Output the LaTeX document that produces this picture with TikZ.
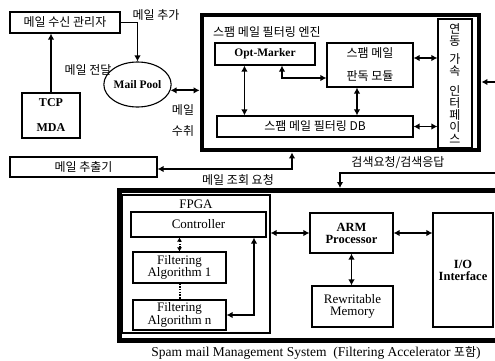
\documentclass[tikz,border=0pt]{standalone}
\usepackage{fontspec}
\setmainfont{Liberation Serif}
\newfontfamily\kr{Noto Sans CJK KR}
\usetikzlibrary{arrows.meta,shapes.geometric,calc}
\begin{document}
\begin{tikzpicture}[x=1pt,y=-1pt,
  box/.style={draw,line width=1.1pt,inner sep=1pt,align=center,font=\fontsize{12}{12}\selectfont\bfseries},
  rbox/.style={box,font=\fontsize{13}{12.5}\selectfont},
  krt/.style={font=\kr\fontsize{12}{12}\selectfont},
  lbl/.style={font=\kr\fontsize{12}{12}\selectfont,inner sep=0pt,align=center},
  conn/.style={line width=1.8pt,-{Latex[length=6pt,width=6.5pt]}},
  both/.style={line width=1.8pt,{Latex[length=6pt,width=6.5pt]}-{Latex[length=6pt,width=6.5pt]}},
  dotc/.style={line width=2pt,dash pattern=on 1.5pt off 1.2pt}]
\useasboundingbox (0,0) rectangle (495,361);
% top-left
\node[box,krt,minimum width=110pt,minimum height=21pt] (recv) at (65,22.5) {메일 수신 관리자};
\node[box,minimum width=58pt,minimum height=45pt] (tcp) at (51,115.5) {TCP\\[13pt]MDA};
\node[draw,ellipse,line width=1.1pt,minimum width=65pt,minimum height=45pt,inner sep=0pt,font=\fontsize{11.5}{12}\selectfont\bfseries] (pool) at (137.5,84.5) {Mail Pool};
\node[lbl] (ladd) at (156,15) {메일 추가};
\node[lbl] (lfwd) at (88,70) {메일 전달};
\node[lbl] (lrcv) at (183,120.5) {메일\\[9pt]수취};
% engine
\node[draw,line width=4.8pt,minimum width=277pt,minimum height=135pt,inner sep=0pt] (engine) at (340.5,82.5) {};
\node[lbl,anchor=west] (leng) at (213,32) {스팸 메일 필터링 엔진};
\node[box,minimum width=100pt,minimum height=22pt,font=\fontsize{11.5}{12}\selectfont\bfseries] (optm) at (265,54) {Opt-Marker};
\node[box,krt,minimum width=86pt,minimum height=44pt] (judge) at (370,65) {스팸 메일\\[11pt]판독 모듈};
\node[box,krt,minimum width=196pt,minimum height=21pt] (db) at (315,126.5) {스팸 메일 필터링 DB};
\node[box,krt,minimum width=34pt,minimum height=129pt] (iface) at (455,83.5) {연\\동\\[6pt]가\\속\\[8pt]인\\터\\페\\이\\스};
% extractor
\node[box,krt,minimum width=147pt,minimum height=20pt] (extract) at (83.5,167) {메일 추출기};
\node[lbl] (lquery) at (238,180) {메일 조회 요청};
\node[lbl] (lsearch) at (398,163) {검색요청/검색응답};
% bottom system
\draw[line width=5pt,line join=miter] (497,190.5) -- (119,190.5) -- (119,340.5) -- (497,340.5);
\coordinate (systop) at (340,188);
\node[draw,line width=1.1pt,minimum width=148pt,minimum height=138pt,inner sep=0pt] (fpga) at (196,264) {};
\node[font=\fontsize{13}{13}\selectfont,inner sep=0pt] (lfpga) at (196,204.5) {FPGA};
\node[rbox,minimum width=135pt,minimum height=25pt] (ctrl) at (198.5,224.5) {Controller};
\node[rbox,minimum width=93pt,minimum height=31pt] (alg1) at (179.5,267.5) {Filtering\\Algorithm 1};
\node[rbox,minimum width=93pt,minimum height=30pt] (algn) at (179.5,315) {Filtering\\Algorithm n};
\node[box,minimum width=83pt,minimum height=40pt,font=\fontsize{12.5}{12}\selectfont\bfseries] (arm) at (351.5,233) {ARM\\Processor};
\node[rbox,minimum width=81pt,minimum height=41pt] (mem) at (352.5,306.5) {Rewritable\\Memory};
\node[box,minimum width=60pt,minimum height=114pt,font=\fontsize{12.5}{12}\selectfont\bfseries] (io) at (463,270) {I/O\\Interface};
\node[font=\fontsize{13.5}{14}\selectfont,inner sep=0pt] (cap) at (316,353) {Spam mail Management System\ \ (Filtering Accelerator {\kr\fontsize{12}{14}\selectfont 포함})};
% connectors top
\draw[conn] (recv.east) -| (pool.north);
\draw[conn] (tcp.north) -- (tcp.north |- recv.south);
\draw[both] (pool.-10) -- (engine.west |- pool.-10);
\coordinate (a1) at ([xshift=30pt]optm.south west);
\draw[both] (a1) -- (a1 |- db.north);
\coordinate (a2) at ([xshift=-13pt]judge.south);
\draw[both] (a2) -- (a2 |- db.north);
\draw[both] ([xshift=17pt]optm.south) |- ([yshift=-13pt]judge.west);
\coordinate (a3) at ([yshift=7pt]judge.east);
\draw[both] (a3) -- (a3 -| iface.west);
\draw[both] (db.east) -- (db.east -| iface.west);
\coordinate (r1) at (495,82);
\draw[conn] (r1) -- (r1 -| engine.east);
\draw[both] ([yshift=-2pt]extract.east) -| ([xshift=-48.5pt]engine.south);
\coordinate (r2) at (496,173);
\draw[conn] (r2) -| (systop);
% connectors bottom
\draw[dotc,{Latex[length=4pt,width=5pt]}-{Latex[length=4pt,width=5pt]}] (alg1.north) -- (alg1.north |- ctrl.south);
\draw[dotc] (alg1.south) -- (algn.north);
\draw[both] ([xshift=55.5pt]ctrl.south) |- (algn.east);
\draw[both] (arm.west -| fpga.east) -- (arm.west);
\draw[both] (arm.east) -- (arm.east -| io.west);
\draw[both] (arm.south) -- (arm.south |- mem.north);
\end{tikzpicture}
\end{document}
